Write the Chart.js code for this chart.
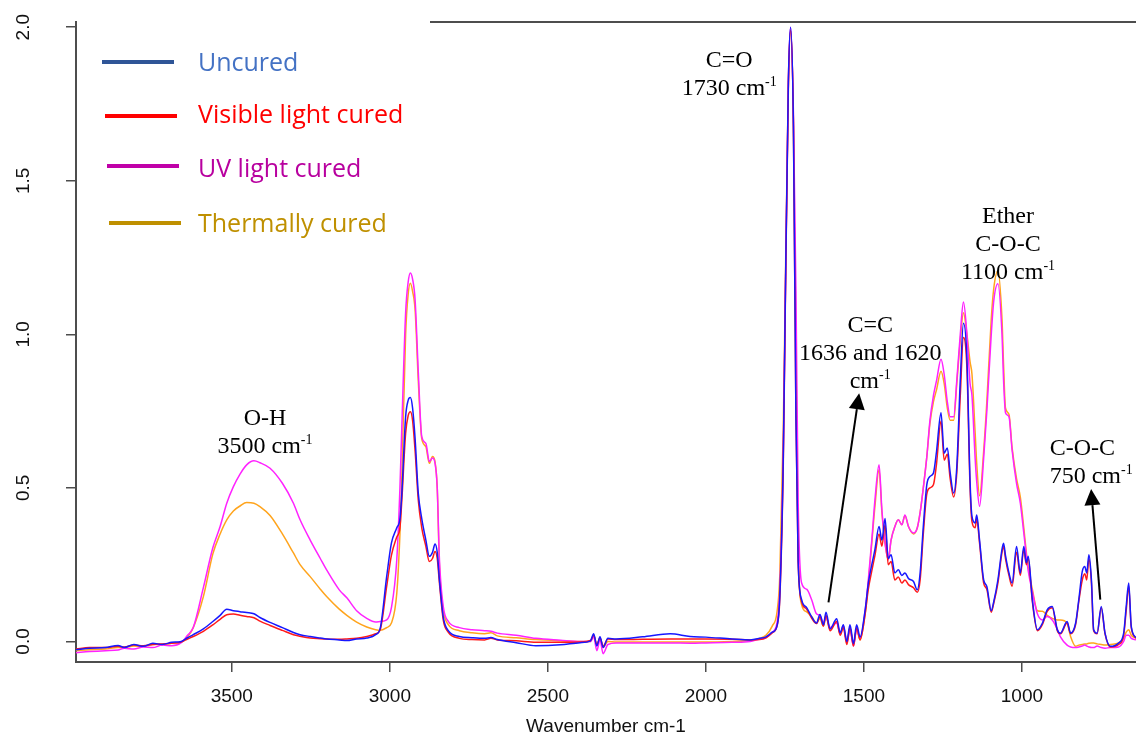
<!DOCTYPE html>
<html>
<head>
<meta charset="utf-8">
<title>FTIR spectra</title>
<script src="https://cdn.jsdelivr.net/npm/chart.js@4.4.1/dist/chart.umd.min.js"></script>
<style>
  html, body { margin: 0; padding: 0; background: #fff; }
  #wrap { width: 1136px; height: 738px; }
</style>
</head>
<body>
<div id="wrap"><canvas id="chart" width="1136" height="738"></canvas></div>
<script>
// wavenumber (cm-1), high to low, shared by all four spectra
const wavenumbers = [
  3993, 3950, 3900, 3860, 3840, 3810, 3780, 3750, 3720, 3690,
  3660, 3640, 3622, 3590, 3560, 3537, 3516, 3495, 3474, 3453,
  3430, 3411, 3379, 3340, 3305, 3284, 3252, 3220, 3200, 3160,
  3136, 3105, 3073, 3045, 3030, 3010, 2995, 2978, 2968, 2962,
  2950, 2942, 2935, 2928, 2920, 2910, 2899, 2886, 2875, 2865,
  2857, 2850, 2843, 2831, 2815, 2780, 2740, 2700, 2680, 2660,
  2600, 2538, 2460, 2398, 2365, 2355, 2345, 2335, 2325, 2310,
  2284, 2200, 2113, 2050, 2000, 1917, 1860, 1830, 1810, 1790,
  1775, 1766, 1755, 1750, 1739, 1732, 1723, 1715, 1708, 1697,
  1681, 1665, 1650, 1639, 1628, 1620, 1607, 1586, 1575, 1565,
  1554, 1544, 1533, 1523, 1512, 1496, 1486, 1475, 1465, 1452,
  1443, 1433, 1423, 1414, 1402, 1391, 1380, 1370, 1359, 1343,
  1331, 1322, 1312, 1301, 1291, 1280, 1270, 1256, 1246, 1236,
  1227, 1216, 1206, 1195, 1185, 1174, 1164, 1158, 1148, 1143,
  1134, 1121, 1111, 1097, 1089, 1076, 1063, 1058, 1052, 1041,
  1031, 1017, 1005, 994, 986, 980, 967, 951, 935, 920,
  904, 888, 878, 857, 846, 830, 820, 809, 801, 795,
  788, 780, 773, 762, 749, 737, 720, 694, 678, 670,
  662, 654, 639
];

const uncured = [
  -0.027, -0.022, -0.020, -0.013, -0.020, -0.010, -0.016, -0.006, -0.010, -0.003,
  0.000, 0.012, 0.022, 0.041, 0.065, 0.085, 0.105, 0.100, 0.097, 0.094,
  0.090, 0.078, 0.062, 0.045, 0.029, 0.022, 0.016, 0.011, 0.008, 0.005,
  0.003, 0.008, 0.011, 0.022, 0.045, 0.211, 0.320, 0.370, 0.400, 0.483,
  0.732, 0.785, 0.794, 0.760, 0.660, 0.483, 0.400, 0.330, 0.277, 0.290,
  0.317, 0.290, 0.200, 0.080, 0.035, 0.016, 0.012, 0.010, 0.013, 0.006,
  -0.004, -0.014, -0.011, -0.004, 0.002, 0.025, -0.015, 0.015, -0.020, 0.010,
  0.008, 0.015, 0.025, 0.016, 0.014, 0.008, 0.005, 0.010, 0.015, 0.030,
  0.050, 0.149, 0.600, 1.000, 1.820, 2.000, 1.680, 0.730, 0.260, 0.136,
  0.110, 0.080, 0.060, 0.088, 0.054, 0.095, 0.041, 0.074, 0.028, 0.054,
  0.000, 0.054, -0.007, 0.054, 0.014, 0.103, 0.190, 0.250, 0.300, 0.374,
  0.330, 0.400, 0.270, 0.282, 0.223, 0.233, 0.215, 0.223, 0.205, 0.195,
  0.168, 0.223, 0.374, 0.510, 0.537, 0.548, 0.620, 0.745, 0.613, 0.630,
  0.550, 0.483, 0.569, 0.850, 1.036, 0.922, 0.520, 0.407, 0.386, 0.412,
  0.330, 0.200, 0.179, 0.100, 0.130, 0.200, 0.300, 0.320, 0.280, 0.223,
  0.190, 0.309, 0.223, 0.309, 0.256, 0.277, 0.136, 0.038, 0.060, 0.103,
  0.114, 0.038, 0.027, 0.065, 0.027, 0.060, 0.136, 0.228, 0.244, 0.223,
  0.282, 0.200, 0.038, 0.027, 0.114, 0.027, -0.016, -0.005, 0.027, 0.114,
  0.190, 0.049, 0.012
];

const visibleCured = [
  -0.025, -0.020, -0.020, -0.016, -0.018, -0.012, -0.014, -0.010, -0.008, -0.006,
  -0.002, 0.008, 0.016, 0.033, 0.054, 0.072, 0.087, 0.089, 0.085, 0.081,
  0.077, 0.066, 0.052, 0.036, 0.022, 0.017, 0.011, 0.009, 0.008, 0.007,
  0.008, 0.010, 0.016, 0.025, 0.040, 0.179, 0.280, 0.340, 0.370, 0.460,
  0.678, 0.735, 0.748, 0.720, 0.620, 0.461, 0.370, 0.310, 0.260, 0.270,
  0.293, 0.270, 0.190, 0.070, 0.030, 0.010, 0.006, 0.005, 0.010, 0.005,
  0.002, -0.003, -0.003, -0.002, 0.003, 0.020, -0.010, 0.012, -0.015, 0.008,
  0.006, 0.007, 0.008, 0.008, 0.008, 0.007, 0.005, 0.006, 0.012, 0.028,
  0.050, 0.140, 0.580, 0.980, 1.800, 1.990, 1.680, 0.730, 0.260, 0.130,
  0.105, 0.075, 0.058, 0.080, 0.050, 0.085, 0.035, 0.065, 0.020, 0.045,
  -0.010, 0.045, -0.015, 0.045, 0.005, 0.090, 0.170, 0.230, 0.280, 0.350,
  0.310, 0.380, 0.250, 0.260, 0.200, 0.210, 0.190, 0.200, 0.185, 0.175,
  0.160, 0.200, 0.350, 0.480, 0.500, 0.510, 0.580, 0.718, 0.590, 0.610,
  0.530, 0.470, 0.550, 0.800, 0.990, 0.890, 0.500, 0.390, 0.370, 0.400,
  0.320, 0.190, 0.170, 0.095, 0.125, 0.190, 0.290, 0.310, 0.270, 0.215,
  0.180, 0.290, 0.215, 0.300, 0.250, 0.270, 0.130, 0.035, 0.055, 0.098,
  0.110, 0.035, 0.025, 0.060, 0.025, 0.055, 0.130, 0.200, 0.220, 0.200,
  0.270, 0.190, 0.035, 0.025, 0.110, 0.025, -0.018, -0.010, 0.020, 0.100,
  0.180, 0.045, 0.010
];

const uvCured = [
  -0.037, -0.033, -0.030, -0.028, -0.022, -0.025, -0.018, -0.020, -0.012, -0.014,
  -0.004, 0.020, 0.045, 0.175, 0.305, 0.374, 0.450, 0.504, 0.545, 0.575,
  0.588, 0.582, 0.564, 0.515, 0.450, 0.396, 0.330, 0.270, 0.233, 0.168,
  0.142, 0.100, 0.075, 0.063, 0.065, 0.070, 0.110, 0.266, 0.500, 0.700,
  1.070, 1.170, 1.200, 1.180, 1.112, 0.880, 0.667, 0.645, 0.586, 0.597,
  0.580, 0.500, 0.266, 0.114, 0.065, 0.045, 0.038, 0.035, 0.033, 0.027,
  0.020, 0.010, 0.004, 0.000, 0.000, 0.015, -0.030, 0.005, -0.040, -0.010,
  -0.005, -0.005, -0.005, -0.006, -0.005, -0.003, 0.000, 0.008, 0.012, 0.030,
  0.060, 0.170, 0.620, 1.000, 1.820, 2.000, 1.720, 1.140, 0.460, 0.190,
  0.170, 0.135, 0.090, 0.085, 0.060, 0.080, 0.045, 0.060, 0.025, 0.050,
  -0.005, 0.040, -0.015, 0.040, 0.010, 0.100, 0.200, 0.330, 0.461, 0.575,
  0.428, 0.320, 0.266, 0.330, 0.374, 0.396, 0.380, 0.412, 0.374, 0.353,
  0.370, 0.420, 0.500, 0.600, 0.720, 0.800, 0.850, 0.919, 0.870, 0.780,
  0.732, 0.732, 0.850, 1.000, 1.105, 1.000, 0.840, 0.800, 0.597, 0.520,
  0.440, 0.597, 0.750, 1.000, 1.110, 1.165, 1.000, 0.850, 0.745, 0.732,
  0.623, 0.515, 0.450, 0.353, 0.280, 0.230, 0.162, 0.090, 0.070, 0.081,
  0.070, 0.040, 0.015, -0.012, -0.018, -0.020, -0.018, -0.015, -0.012, -0.015,
  -0.018, -0.020, -0.020, -0.015, -0.020, -0.022, -0.020, -0.018, 0.000, 0.020,
  0.020, 0.010, 0.005
];

const thermalCured = [
  -0.030, -0.027, -0.025, -0.020, -0.020, -0.015, -0.016, -0.010, -0.010, -0.006,
  -0.002, 0.015, 0.045, 0.146, 0.285, 0.350, 0.396, 0.425, 0.441, 0.452,
  0.450, 0.439, 0.410, 0.350, 0.288, 0.250, 0.211, 0.170, 0.146, 0.105,
  0.085, 0.063, 0.047, 0.038, 0.036, 0.045, 0.060, 0.157, 0.350, 0.537,
  1.000, 1.130, 1.166, 1.140, 1.079, 0.850, 0.660, 0.634, 0.580, 0.602,
  0.585, 0.500, 0.244, 0.103, 0.055, 0.035, 0.028, 0.025, 0.028, 0.018,
  0.012, 0.006, 0.002, 0.000, 0.000, 0.018, -0.012, 0.010, -0.020, 0.000,
  -0.002, -0.002, -0.002, -0.002, -0.002, 0.000, 0.003, 0.010, 0.020, 0.050,
  0.095, 0.217, 0.700, 1.050, 1.820, 1.990, 1.700, 0.950, 0.300, 0.120,
  0.096, 0.080, 0.060, 0.075, 0.050, 0.080, 0.040, 0.065, 0.025, 0.050,
  0.000, 0.045, -0.010, 0.040, 0.005, 0.090, 0.190, 0.320, 0.440, 0.560,
  0.420, 0.320, 0.266, 0.330, 0.374, 0.396, 0.380, 0.410, 0.374, 0.350,
  0.370, 0.420, 0.500, 0.600, 0.710, 0.780, 0.820, 0.880, 0.840, 0.760,
  0.720, 0.720, 0.840, 0.980, 1.070, 1.000, 0.910, 0.870, 0.680, 0.580,
  0.474, 0.620, 0.780, 1.050, 1.150, 1.206, 1.050, 0.900, 0.760, 0.740,
  0.630, 0.530, 0.470, 0.370, 0.290, 0.240, 0.170, 0.100, 0.098, 0.085,
  0.075, 0.070, 0.070, 0.060, 0.016, -0.016, -0.012, -0.010, -0.008, -0.008,
  -0.006, -0.005, -0.005, -0.008, -0.010, -0.012, -0.010, -0.005, 0.010, 0.030,
  0.038, 0.020, 0.010
];

const seriesNames = ["Uncured", "Visible light cured", "UV light cured", "Thermally cured"];
const lineColors = ["#1717ff", "#ff1a1a", "#ff22ff", "#ffa41c"];
const legendLineColors = ["#2f5597", "#ff0000", "#c000a8", "#bf9000"];
const legendTextColors = ["#4472c4", "#ff0000", "#b8009f", "#bf9000"];

const xTicks = [3500, 3000, 2500, 2000, 1500, 1000];
const yTicks = [0, 0.5, 1, 1.5, 2];
const yTickLabels = ["0.0", "0.5", "1.0", "1.5", "2.0"];

// peak labels, anchored in data units (wavenumber, absorbance of first baseline)
const peakNotes = [
  { wn: 3395, abs: 0.705, align: "center", lines: [["O-H", ""], ["3500 cm", "-1"]] },
  { wn: 1926, abs: 1.870, align: "center", lines: [["C=O", ""], ["1730 cm", "-1"]] },
  { wn: 1480, abs: 1.007, align: "center", lines: [["C=C", ""], ["1636 and 1620", ""], ["cm", "-1"]] },
  { wn: 1044, abs: 1.362, align: "center", lines: [["Ether", ""], ["C-O-C", ""], ["1100 cm", "-1"]] },
  { wn: 912, abs: 0.607, align: "left", lines: [["C-O-C", ""], ["750 cm", "-1"]] }
];
const arrowTails = [[1612, 0.127], [752, 0.136]];
const arrowTips = [[1515, 0.808], [781, 0.496]];

const serif = "'Liberation Serif', 'Times New Roman', serif";
const sans = "'Liberation Sans', Arial, sans-serif";
const axisGrey = "#4d4d4d";

let datasets = seriesNames.map((name, i) => {
  const ys = [uncured, visibleCured, uvCured, thermalCured][i];
  return {
    label: name,
    data: wavenumbers.map((w, j) => ({ x: w, y: ys[j] })),
    borderColor: lineColors[i],
    borderWidth: 1.5,
    pointRadius: 0,
    cubicInterpolationMode: "monotone",
    fill: false
  };
});

// legend, annotations, rotated y labels and the top frame line
const extras = {
  id: "extras",
  afterDraw(chart) {
    const ctx = chart.ctx;
    const xs = chart.scales.x;
    const ys = chart.scales.y;
    const area = chart.chartArea;

    ctx.save();
    // top frame, hidden behind the legend block on the left
    ctx.strokeStyle = axisGrey;
    ctx.lineWidth = 2;
    ctx.beginPath();
    ctx.moveTo(430, area.top);
    ctx.lineTo(area.right, area.top);
    ctx.stroke();

    // y tick labels, turned like the original
    ctx.fillStyle = "#111";
    ctx.font = "19px " + sans;
    ctx.textAlign = "center";
    ctx.textBaseline = "alphabetic";
    yTicks.forEach((v, i) => {
      ctx.save();
      ctx.translate(28.5, ys.getPixelForValue(v));
      ctx.rotate(-Math.PI / 2);
      ctx.fillText(yTickLabels[i], 0, 0);
      ctx.restore();
    });

    // legend
    const lineX = [102, 105, 107, 109];
    const lineY = [62, 116, 166, 223];
    const textBase = [71, 123, 177, 232];
    ctx.textAlign = "left";
    ctx.font = "25px 'Open Sans', sans-serif";
    seriesNames.forEach((name, i) => {
      ctx.strokeStyle = legendLineColors[i];
      ctx.lineWidth = 4;
      ctx.beginPath();
      ctx.moveTo(lineX[i], lineY[i]);
      ctx.lineTo(lineX[i] + 72, lineY[i]);
      ctx.stroke();
      ctx.fillStyle = legendTextColors[i];
      ctx.fillText(name, 198, textBase[i]);
    });

    // peak labels
    ctx.fillStyle = "#000";
    peakNotes.forEach(note => {
      const px = xs.getPixelForValue(note.wn);
      let py = ys.getPixelForValue(note.abs);
      note.lines.forEach(([main, sup]) => {
        ctx.font = "24px " + serif;
        const w1 = ctx.measureText(main).width;
        ctx.font = "14px " + serif;
        const w2 = sup ? ctx.measureText(sup).width : 0;
        let x0 = note.align === "center" ? px - (w1 + w2) / 2 : px;
        ctx.font = "24px " + serif;
        ctx.fillText(main, x0, py);
        if (sup) {
          ctx.font = "14px " + serif;
          ctx.fillText(sup, x0 + w1, py - 9);
        }
        py += 28;
      });
    });

    // arrows
    ctx.strokeStyle = "#000";
    ctx.fillStyle = "#000";
    arrowTails.forEach((tail, i) => {
      const x1 = xs.getPixelForValue(tail[0]), y1 = ys.getPixelForValue(tail[1]);
      const x2 = xs.getPixelForValue(arrowTips[i][0]), y2 = ys.getPixelForValue(arrowTips[i][1]);
      const ang = Math.atan2(y2 - y1, x2 - x1);
      const headLen = 16, headHalf = 8;
      const bx = x2 - headLen * Math.cos(ang), by = y2 - headLen * Math.sin(ang);
      ctx.lineWidth = 2;
      ctx.beginPath();
      ctx.moveTo(x1, y1);
      ctx.lineTo(bx, by);
      ctx.stroke();
      ctx.beginPath();
      ctx.moveTo(x2, y2);
      ctx.lineTo(bx + headHalf * Math.sin(ang), by - headHalf * Math.cos(ang));
      ctx.lineTo(bx - headHalf * Math.sin(ang), by + headHalf * Math.cos(ang));
      ctx.closePath();
      ctx.fill();
    });
    ctx.restore();
  }
};

let chart = new Chart(document.querySelector("#chart"), {
  type: "line",
  data: { datasets: datasets },
  options: {
    responsive: false,
    animation: false,
    devicePixelRatio: 1,
    layout: { padding: { top: 22, left: 0, right: 0, bottom: 0 } },
    plugins: {
      legend: { display: false },
      tooltip: { enabled: false }
    },
    scales: {
      x: {
        type: "linear",
        reverse: true,
        min: 639,
        max: 3993,
        afterBuildTicks: (scale) => { scale.ticks = xTicks.map(v => ({ value: v })); },
        afterFit: (scale) => { scale.height = 76; },
        grid: { drawOnChartArea: false, drawTicks: true, tickLength: 10, color: axisGrey, lineWidth: 1.5 },
        border: { display: true, color: axisGrey, width: 2 },
        ticks: {
          font: { family: sans, size: 19 },
          color: "#111",
          padding: 13,
          maxRotation: 0,
          autoSkip: false,
          callback: (value) => String(value)
        },
        title: { display: true, text: "Wavenumber cm-1", font: { family: sans, size: 19 }, color: "#111", padding: 0 }
      },
      y: {
        type: "linear",
        min: -0.067,
        max: 2.017,
        afterBuildTicks: (scale) => { scale.ticks = yTicks.map(v => ({ value: v })); },
        afterFit: (scale) => { scale.width = 76; },
        grid: { drawOnChartArea: false, drawTicks: true, tickLength: 10, color: axisGrey, lineWidth: 1.5 },
        border: { display: true, color: axisGrey, width: 2 },
        ticks: { display: false }
      }
    }
  },
  plugins: [extras]
});
</script>
</body>
</html>
